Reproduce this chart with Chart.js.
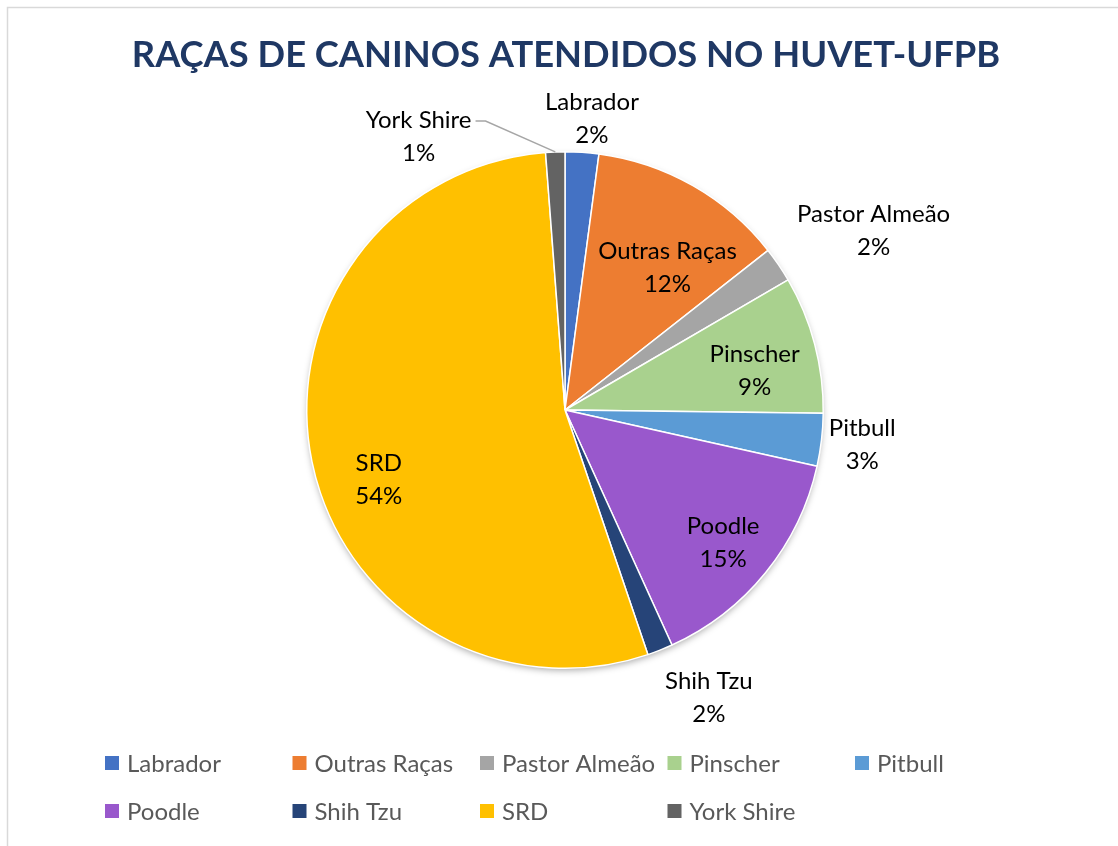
<!DOCTYPE html>
<html>
<head>
<meta charset="utf-8">
<script src="https://cdn.jsdelivr.net/npm/chart.js@4.4.0/dist/chart.umd.min.js"></script>
<style>
  html, body { margin: 0; padding: 0; background: #fff; }
  #wrap { width: 1118px; height: 846px; position: relative; }
</style>
</head>
<body>
<div id="wrap"><canvas id="chart" width="1118" height="846"></canvas></div>
<script>
const chartTitle = "RAÇAS DE CANINOS ATENDIDOS NO HUVET-UFPB";
const breeds = ["Labrador", "Outras Raças", "Pastor Almeão", "Pinscher", "Pitbull", "Poodle", "Shih Tzu", "SRD", "York Shire"];
const shares = [2.1, 12.3, 2.2, 8.6, 3.3, 14.7, 1.6, 54.0, 1.2];
const sliceColors = ["#4472C4", "#ED7D31", "#A5A5A5", "#A9D18E", "#5B9BD5", "#9958CC", "#264478", "#FFC000", "#636363"];

const labelFont = "24px Lato";
const legendFont = "24px Lato";

// label placement: inside slices get a radius factor, small ones go outside
const insideFactor = [null, 0.68, null, 0.75, null, 0.8, null, 0.77, null];
const angleShift = [1.5, 6, 4, 3, 0, 1, -5, -9, 0];
const outsideGap = [-3, 0, 16, 0, 4, 0, 14, 0, 0];

const ctx = document.getElementById("chart").getContext('2d');

const framePlugin = {
  id: 'frame',
  beforeDraw(chart) {
    const c = chart.ctx;
    c.save();
    c.strokeStyle = "#d9d9d9";
    c.lineWidth = 1.5;
    c.beginPath();
    c.moveTo(7.5, 846);
    c.lineTo(7.5, 7.5);
    c.lineTo(1118, 7.5);
    c.stroke();

    // title, stretched to the width it has in the original
    let size = 35;
    c.font = "bold " + size + "px Lato";
    size = size * 868 / c.measureText(chartTitle).width;
    c.font = "bold " + size.toFixed(1) + "px Lato";
    c.fillStyle = "#1F3864";
    c.textAlign = "center";
    c.textBaseline = "alphabetic";
    c.fillText(chartTitle, 566, 67);
    c.restore();
  },
  beforeDatasetsDraw(chart) {
    const arc = chart.getDatasetMeta(0).data[0];
    if (!arc) return;
    const c = chart.ctx;
    c.save();
    c.shadowColor = "rgba(0,0,0,0.35)";
    c.shadowBlur = 7;
    c.shadowOffsetY = 3;
    c.fillStyle = "#ffffff";
    c.beginPath();
    c.arc(arc.x, arc.y, arc.outerRadius - 1, 0, Math.PI * 2);
    c.fill();
    c.restore();
  }
};

const labelPlugin = {
  id: 'sliceLabels',
  afterDatasetsDraw(chart) {
    const c = chart.ctx;
    const meta = chart.getDatasetMeta(0);
    const total = shares.reduce((a, b) => a + b, 0);
    c.save();
    c.font = labelFont;
    c.fillStyle = "#000000";
    c.textAlign = "center";
    c.textBaseline = "middle";
    meta.data.forEach((arc, i) => {
      const lines = [breeds[i], Math.round(shares[i] / total * 100) + "%"];
      const w = Math.max(...lines.map(t => c.measureText(t).width));
      const h = 66;
      const mid = (arc.startAngle + arc.endAngle) / 2 + angleShift[i] * Math.PI / 180;
      const dx = Math.cos(mid), dy = Math.sin(mid);
      let cx, cy;
      if (insideFactor[i]) {
        cx = arc.x + dx * arc.outerRadius * insideFactor[i];
        cy = arc.y + dy * arc.outerRadius * insideFactor[i];
      } else if (breeds[i] === "York Shire") {
        // pushed out to the left with a leader line
        const a = mid - 26 * Math.PI / 180;
        cx = arc.x + Math.cos(a) * (arc.outerRadius + 52);
        cy = arc.y + Math.sin(a) * (arc.outerRadius + 52);
        const ex = arc.x + dx * arc.outerRadius;
        const ey = arc.y + dy * arc.outerRadius;
        c.save();
        c.strokeStyle = "#a6a6a6";
        c.lineWidth = 1.5;
        c.beginPath();
        c.moveTo(cx + w / 2 + 4, cy - h / 4 + 1);
        c.lineTo(cx + w / 2 + 14, cy - h / 4 + 1);
        c.lineTo(ex, ey);
        c.stroke();
        c.restore();
      } else {
        const d = arc.outerRadius + outsideGap[i] + Math.abs(dx) * w / 2 + Math.abs(dy) * h / 2;
        cx = arc.x + dx * d;
        cy = arc.y + dy * d;
      }
      c.fillText(lines[0], cx, cy - h / 4);
      c.fillText(lines[1], cx, cy + h / 4);
    });
    c.restore();
  }
};

const legendPlugin = {
  id: 'gridLegend',
  afterDraw(chart) {
    const c = chart.ctx;
    const colW = 187.5, rowH = 48, left = 105, top = 763;
    c.save();
    c.font = legendFont;
    c.textBaseline = "middle";
    c.textAlign = "left";
    breeds.forEach((name, i) => {
      const col = i % 5, row = Math.floor(i / 5);
      const x = left + col * colW;
      const y = top + row * rowH;
      c.fillStyle = sliceColors[i];
      c.fillRect(x, y - 7, 14, 14);
      c.fillStyle = "#595959";
      c.fillText(name, x + 22, y + 1);
    });
    c.restore();
  }
};

new Chart(ctx, {
  type: "pie",
  data: {
    labels: breeds,
    datasets: [{
      data: shares,
      backgroundColor: sliceColors,
      borderColor: "#ffffff",
      borderWidth: 1.5,
      hoverOffset: 0
    }]
  },
  options: {
    responsive: false,
    animation: false,
    events: [],
    layout: {
      padding: { top: 151, bottom: 177, left: 306, right: 294 }
    },
    plugins: {
      legend: { display: false },
      tooltip: { enabled: false },
      title: { display: false }
    }
  },
  plugins: [framePlugin, labelPlugin, legendPlugin]
});
</script>
</body>
</html>
